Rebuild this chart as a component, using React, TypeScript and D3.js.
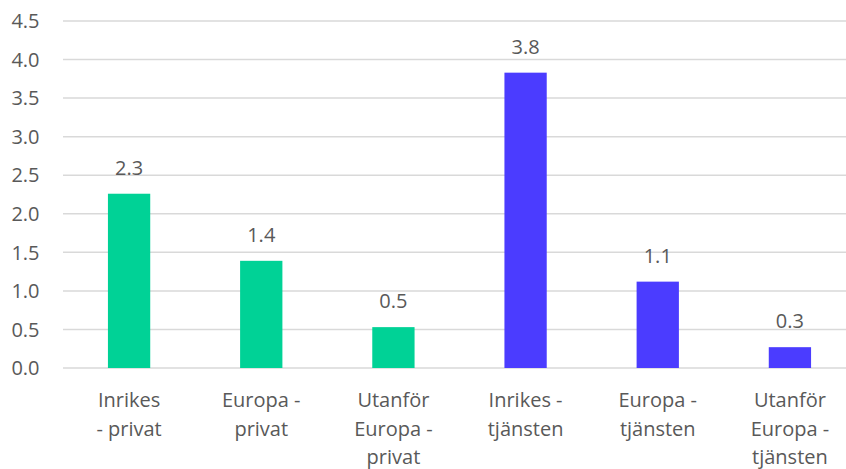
import React from "react";
import * as d3 from "d3";

const categories = [
  "Inrikes - privat",
  "Europa - privat",
  "Utanför Europa - privat",
  "Inrikes - tjänsten",
  "Europa - tjänsten",
  "Utanför Europa - tjänsten",
];
const categoryLines = [
  ["Inrikes", "- privat"],
  ["Europa -", "privat"],
  ["Utanför", "Europa -", "privat"],
  ["Inrikes -", "tjänsten"],
  ["Europa -", "tjänsten"],
  ["Utanför", "Europa -", "tjänsten"],
];
const values = [2.26, 1.39, 0.53, 3.83, 1.12, 0.27];
const valueLabels = ["2.3", "1.4", "0.5", "3.8", "1.1", "0.3"];
const groups = ["privat", "privat", "privat", "tjänsten", "tjänsten", "tjänsten"];
const yTicks = [0, 0.5, 1, 1.5, 2, 2.5, 3, 3.5, 4, 4.5];

const W = 846;
const H = 469;
const FONT = "'Open Sans', sans-serif";
const TEXT = "#595959";
const FS = 20;

export default function App() {
  const x = d3.scaleBand<string>().domain(categories).range([63, 856]).paddingInner(0.68).paddingOuter(0.34);
  const y = d3.scaleLinear().domain([0, 4.5]).range([368, 21]);
  const color = d3.scaleOrdinal<string, string>().domain(["privat", "tjänsten"]).range(["#00D296", "#4B3CFF"]);

  return (
    <svg width={W} height={H} style={{ position: "absolute", left: 0, top: 0, background: "#fff" }}>
      <rect width={W} height={H} fill="#fff" />
      {yTicks.map((t) => (
        <g key={t}>
          <line x1={63} x2={W} y1={y(t)} y2={y(t)} stroke="#D9D9D9" strokeWidth={1.5} />
          <text x={39.5} y={y(t)} dy="0.36em" textAnchor="end" fontFamily={FONT} fontSize={FS} fill={TEXT}>
            {d3.format(".1f")(t)}
          </text>
        </g>
      ))}
      {categories.map((c, i) => {
        const bx = x(c)!;
        const bw = x.bandwidth();
        const cx = bx + bw / 2;
        return (
          <g key={c}>
            <rect x={bx} y={y(values[i])} width={bw} height={y(0) - y(values[i])} fill={color(groups[i])} />
            <text x={cx} y={y(values[i]) - 19} textAnchor="middle" fontFamily={FONT} fontSize={FS} fill={TEXT}>
              {valueLabels[i]}
            </text>
            {categoryLines[i].map((ln, j) => (
              <text key={j} x={cx} y={407 + j * 28.5} textAnchor="middle" fontFamily={FONT} fontSize={FS} fill={TEXT}>
                {ln}
              </text>
            ))}
          </g>
        );
      })}
    </svg>
  );
}
